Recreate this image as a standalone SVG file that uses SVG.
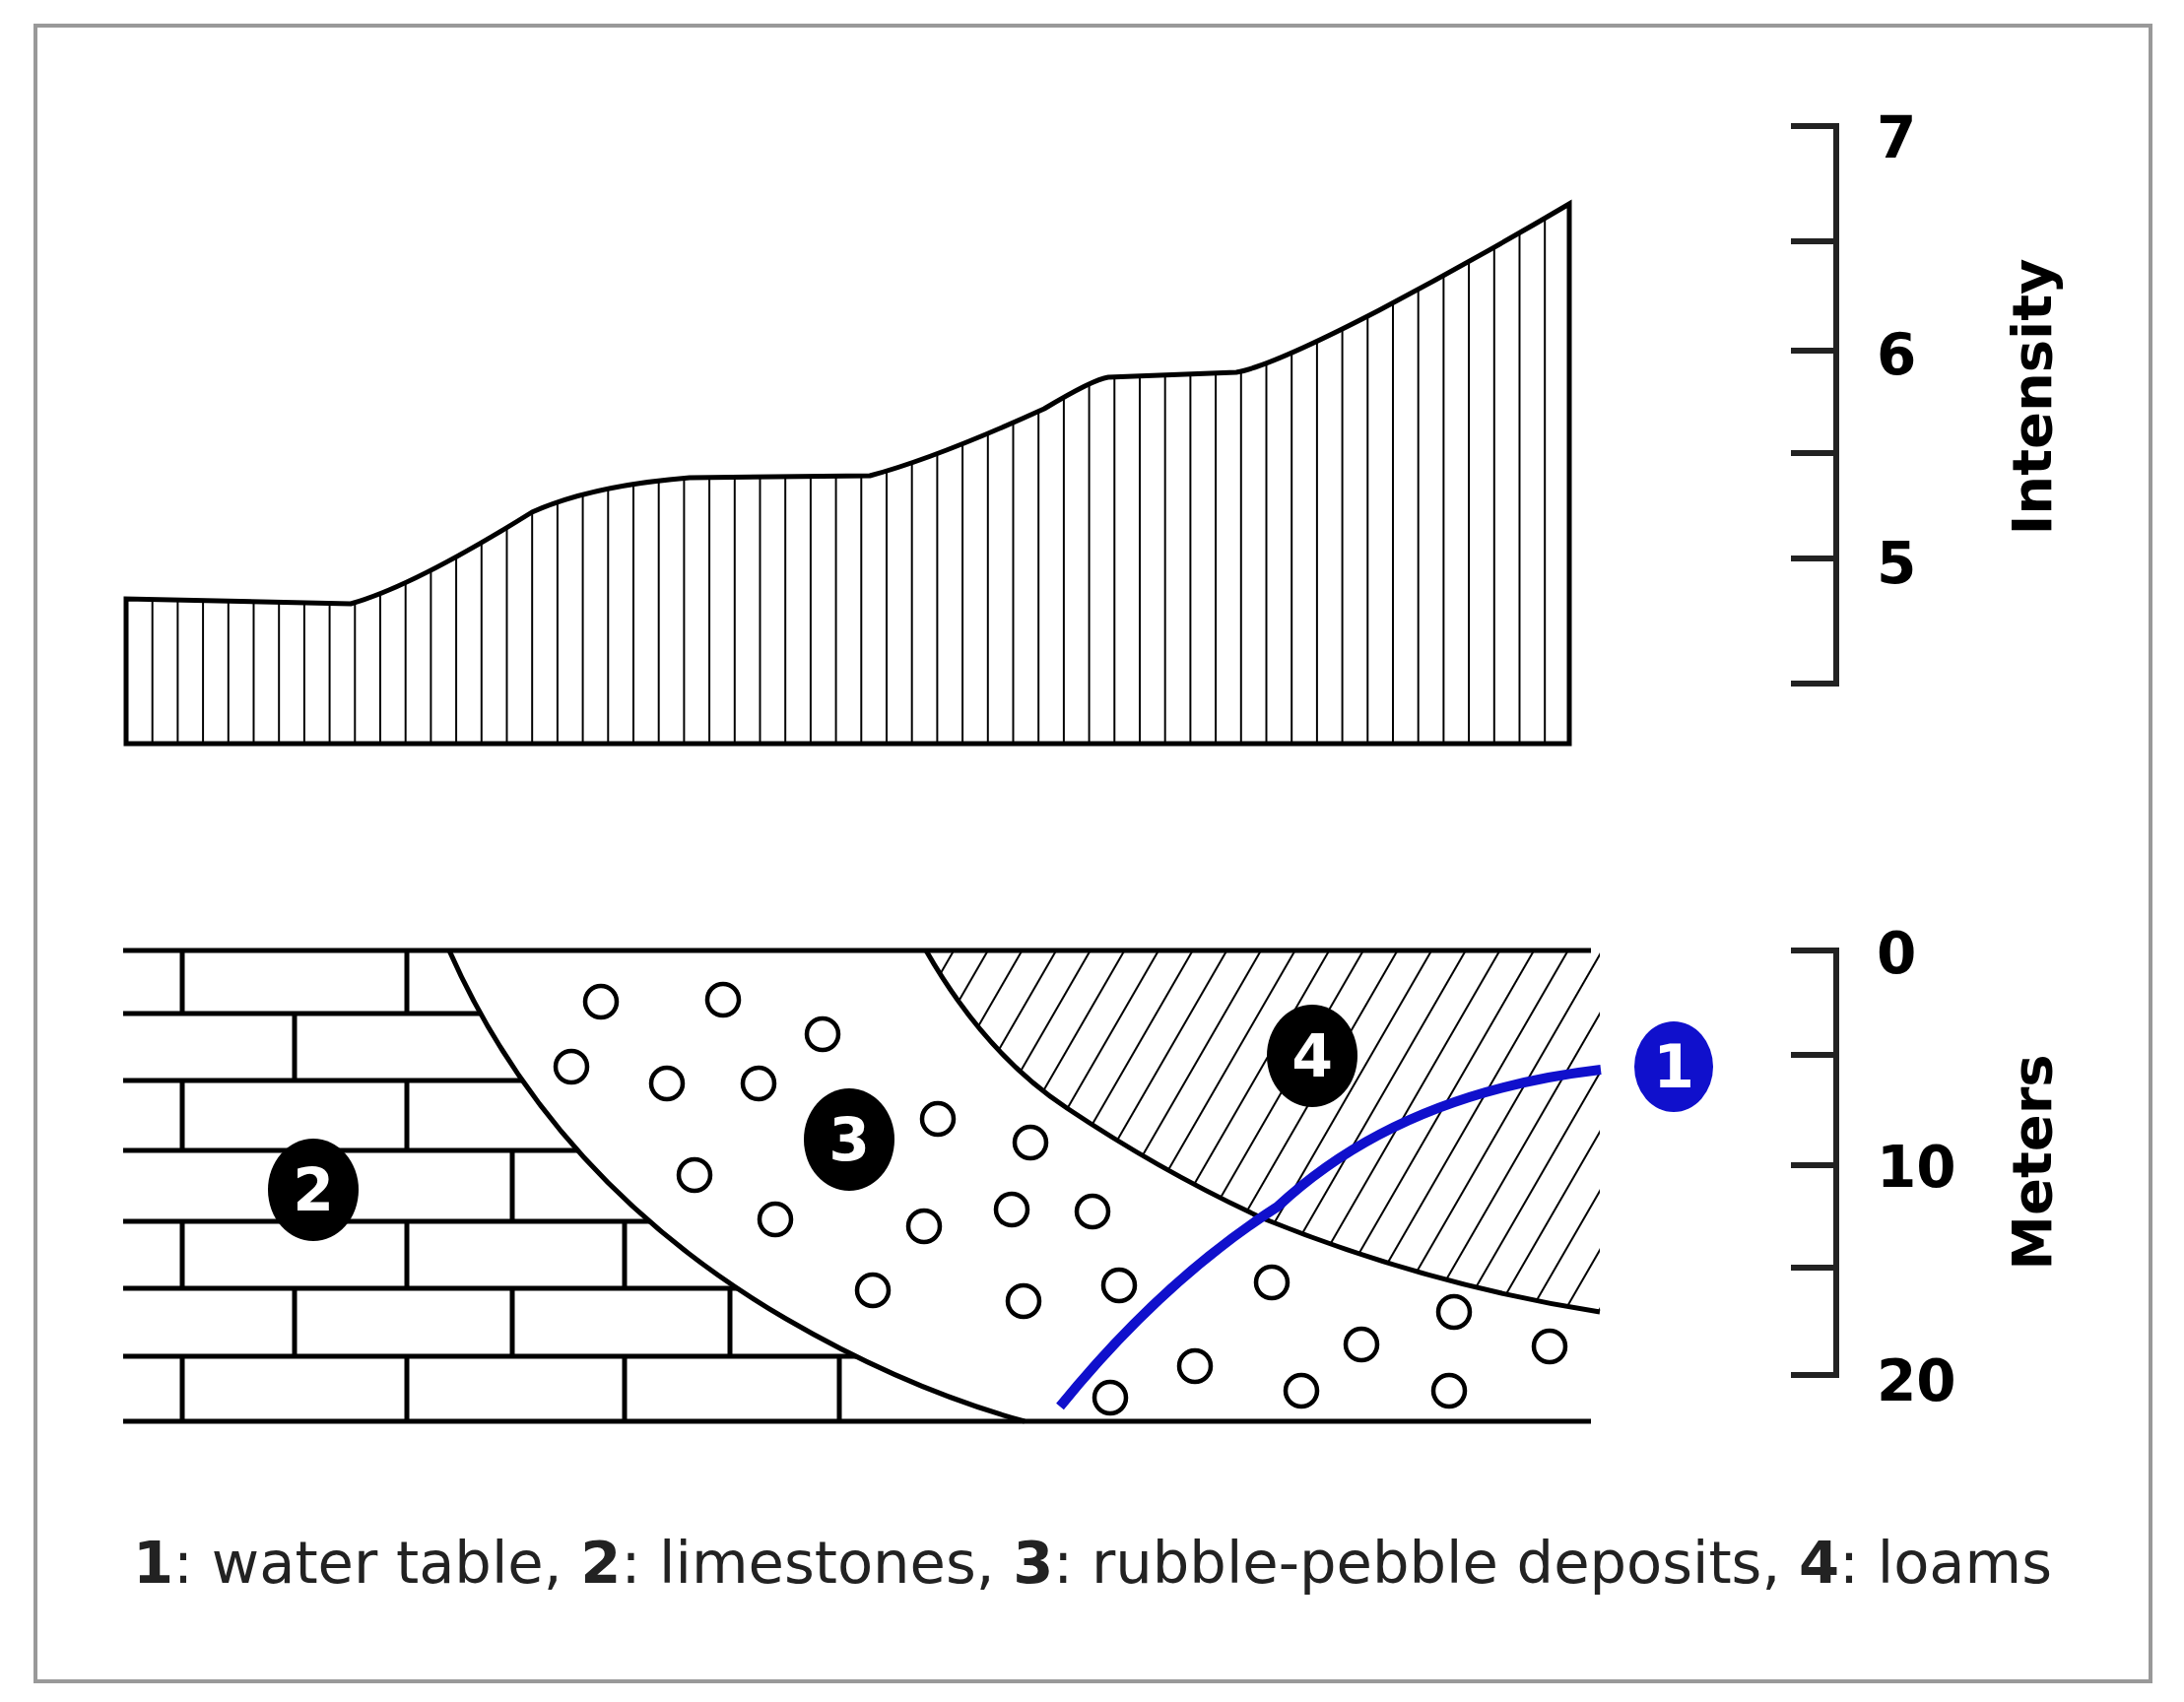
<svg xmlns="http://www.w3.org/2000/svg" width="2217" height="1728" viewBox="0 0 2217 1728">
<style>
.k{stroke:#000;stroke-width:5;fill:none}
.ax{stroke:#222;stroke-width:6;fill:none}
.peb{stroke:#000;stroke-width:4.5;fill:#fff}
.num{font-family:"DejaVu Sans",sans-serif;font-weight:bold;font-size:58px;fill:#000}
.lab{font-family:"DejaVu Sans",sans-serif;font-weight:bold;font-size:56px;fill:#000}
.cn{font-family:"DejaVu Sans",sans-serif;font-weight:bold;font-size:60px;fill:#fff;text-anchor:middle}
</style>
<defs>
<pattern id="vl" patternUnits="userSpaceOnUse" x="128" y="0" width="25.7" height="20"><line x1="0" y1="0" x2="0" y2="20" stroke="#000" stroke-width="4"/></pattern>
<pattern id="dh" patternUnits="userSpaceOnUse" width="30" height="60" patternTransform="rotate(30)"><line x1="0" y1="0" x2="0" y2="60" stroke="#000" stroke-width="4"/></pattern>
<clipPath id="lime"><path d="M125,965 L456,965 Q560,1200 798,1339 Q920,1410 1040,1443 L125,1443 Z"/></clipPath>
<clipPath id="loam"><path d="M940,965 Q1000,1070 1083,1125 Q1180,1190 1282,1237 Q1450,1305 1624,1332 L1624,965 Z"/></clipPath>
</defs>
<rect x="36" y="26" width="2147" height="1681" fill="#fff" stroke="#999" stroke-width="4"/>
<g id="intensity-profile">
<path d="M128,755 L128,608 L356,613 Q420,595 540,520 Q600,493 700,485 L883,483 Q950,465 1060,415 Q1110,385 1125,383 L1255,378 Q1290,372 1400,315 Q1500,262 1593,207 L1593,755 Z" fill="url(#vl)" stroke="#000" stroke-width="5"/>
</g>
<g id="intensity-axis">
<path class="ax" d="M1818,128 H1864 V694 H1818 M1818,245 H1864 M1818,356 H1864 M1818,460 H1864 M1818,567 H1864"/>
<text class="num" x="1905" y="160">7</text>
<text class="num" x="1905" y="380">6</text>
<text class="num" x="1905" y="592">5</text>
<text class="lab" transform="translate(2082,403) rotate(-90)" text-anchor="middle">Intensity</text>
</g>
<g id="meters-axis">
<path class="ax" d="M1818,965 H1864 V1396 H1818 M1818,1071 H1864 M1818,1183 H1864 M1818,1287 H1864"/>
<text class="num" x="1905" y="988">0</text>
<text class="num" x="1905" y="1205">10</text>
<text class="num" x="1905" y="1422">20</text>
<text class="lab" transform="translate(2082,1180) rotate(-90)" text-anchor="middle">Meters</text>
</g>
<g id="limestone">
<g clip-path="url(#lime)" class="k">
<path d="M125,1029H1000M125,1097H1000M125,1168H1000M125,1240H1000M125,1308H1000M125,1377H1000"/>
<path d="M185,965V1029M413,965V1029M299,1029V1097M185,1097V1168M413,1097V1168M299,1168V1240M520,1168V1240M185,1240V1308M413,1240V1308M634,1240V1308M299,1308V1377M520,1308V1377M741,1308V1377M185,1377V1443M413,1377V1443M634,1377V1443M852,1377V1443"/>
</g>
</g>
<g id="loam">
<rect x="900" y="965" width="730" height="400" fill="url(#dh)" clip-path="url(#loam)"/>
</g>
<g id="boundaries" class="k">
<path d="M125,965 H1615 M125,1443 H1615"/>
<path d="M456,965 Q560,1200 798,1339 Q920,1410 1040,1443"/>
<path d="M940,965 Q1000,1070 1083,1125 Q1180,1190 1282,1237 Q1450,1305 1624,1332"/>
</g>
<g id="pebbles" class="peb">
<circle cx="610" cy="1017" r="16"/><circle cx="734" cy="1015" r="16"/><circle cx="835" cy="1050" r="16"/>
<circle cx="580" cy="1083" r="16"/><circle cx="677" cy="1100" r="16"/><circle cx="770" cy="1100" r="16"/>
<circle cx="952" cy="1136" r="16"/><circle cx="1046" cy="1160" r="16"/><circle cx="705" cy="1193" r="16"/>
<circle cx="787" cy="1238" r="16"/><circle cx="938" cy="1245" r="16"/><circle cx="1027" cy="1228" r="16"/>
<circle cx="1109" cy="1230" r="16"/><circle cx="886" cy="1310" r="16"/><circle cx="1039" cy="1321" r="16"/>
<circle cx="1136" cy="1305" r="16"/><circle cx="1291" cy="1302" r="16"/><circle cx="1476" cy="1332" r="16"/>
<circle cx="1382" cy="1365" r="16"/><circle cx="1573" cy="1367" r="16"/><circle cx="1213" cy="1387" r="16"/>
<circle cx="1321" cy="1412" r="16"/><circle cx="1471" cy="1412" r="16"/><circle cx="1127" cy="1419" r="16"/>
</g>
<g id="water-table">
<path d="M1076,1428 Q1180,1300 1297,1225 Q1420,1110 1625,1086" stroke="#1010cc" stroke-width="10" fill="none"/>
</g>
<g id="label-1"><ellipse cx="1699" cy="1083" rx="40" ry="46" fill="#1010cc"/><text class="cn" x="1699" y="1104">1</text></g>
<g id="label-2"><ellipse cx="318" cy="1208" rx="46" ry="52" fill="#000"/><text class="cn" x="318" y="1229">2</text></g>
<g id="label-3"><ellipse cx="862" cy="1157" rx="46" ry="52" fill="#000"/><text class="cn" x="862" y="1178">3</text></g>
<g id="label-4"><ellipse cx="1332" cy="1072" rx="46" ry="52" fill="#000"/><text class="cn" x="1332" y="1093">4</text></g>
<text x="135" y="1607" font-family="DejaVu Sans Condensed,DejaVu Sans,sans-serif" font-size="58" fill="#222" textLength="1948" lengthAdjust="spacingAndGlyphs"><tspan font-weight="bold">1</tspan>: water table, <tspan font-weight="bold">2</tspan>: limestones, <tspan font-weight="bold">3</tspan>: rubble-pebble deposits, <tspan font-weight="bold">4</tspan>: loams</text>
</svg>
